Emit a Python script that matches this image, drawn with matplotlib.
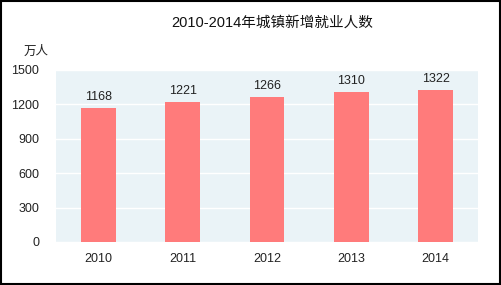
import matplotlib.pyplot as plt

plt.rcParams['font.family'] = ['Liberation Sans', 'Noto Sans CJK SC']

years = ['2010', '2011', '2012', '2013', '2014']
jobs = [1168, 1221, 1266, 1310, 1322]
yticks = [0, 300, 600, 900, 1200, 1500]

fig = plt.figure(figsize=(5.02, 2.85), dpi=100)
ax = fig.add_axes([56/502, 43/285, 422/502, 172/285])
ax.set_facecolor('#eaf3f7')

x = range(len(years))
ax.bar(x, jobs, width=0.41, color='#ff7b7b', zorder=3)
for xi, v in zip(x, jobs):
    ax.text(xi, v + 45, str(v), ha='center', va='bottom', fontsize=9, color='#222222')

ax.set_xlim(-0.5, len(years) - 0.5)
ax.set_ylim(0, 1500)
ax.set_yticks(yticks)
ax.set_yticklabels([str(t) for t in yticks])
ax.set_xticks(list(x))
ax.set_xticklabels(years)
ax.grid(axis='y', color='white', linewidth=1, zorder=1)
for s in ax.spines.values():
    s.set_visible(False)
ax.tick_params(length=0, labelsize=9, colors='#222222')
ax.tick_params(axis='y', pad=12)
ax.tick_params(axis='x', pad=8)

fig.text(272/502, 1 - 23/285, '2010-2014年城镇新增就业人数', ha='center', va='center',
         fontsize=10.5, color='#111111')
fig.text(36/502, 1 - 52/285, '万人', ha='center', va='center', fontsize=9, color='#222222')

# outer frame
fig.patches.append(plt.Rectangle((0.002, 0.003), 0.995, 0.994, transform=fig.transFigure,
                                 fill=False, edgecolor='black', linewidth=1.5))

fig.savefig('out.png', dpi=100)
